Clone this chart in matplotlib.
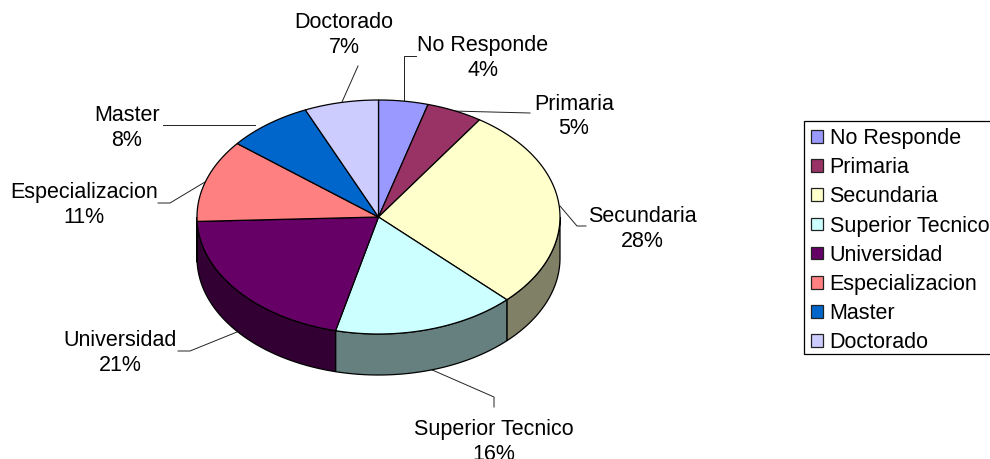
import numpy as np
import matplotlib
matplotlib.use('Agg')
import matplotlib.pyplot as plt
from matplotlib.patches import Polygon, Rectangle

categories = ['No Responde', 'Primaria', 'Secundaria', 'Superior Tecnico',
              'Universidad', 'Especializacion', 'Master', 'Doctorado']
values = [4.4, 5.0, 28.1, 16.3, 20.6, 11.4, 7.6, 6.6]
top_colors = ['#9999FF', '#993366', '#FFFFCC', '#CCFFFF', '#660066', '#FF8080', '#0066CC', '#CCCCFF']
side_colors = ['#4D4D80', '#4D1A33', '#808066', '#668080', '#330033', '#804040', '#003366', '#666680']
label_pos = [(483, 57.5), (574, 116.5), (642, 229.5), (494, 442), (120, 353), (84, 205), (127, 128), (344, 35)]
leaders = [[(404, 101), (404, 57), (416, 57)],
           [(452, 112), (530, 114)],
           [(560, 207), (577, 227), (586, 227)],
           [(430, 370), (494, 398), (494, 408)],
           [(237, 333), (190, 352), (178, 352)],
           [(205, 183), (170, 204), (158, 204)],
           [(255, 126), (163, 126)],
           [(342, 103), (358, 67)]]

plt.rcParams['font.family'] = ['Liberation Sans', 'DejaVu Sans']
fig = plt.figure(figsize=(9.9, 4.6), dpi=100)
ax = fig.add_axes([0, 0, 1, 1])
ax.set_xlim(0, 990)
ax.set_ylim(460, 0)
ax.axis('off')

cx, cy, rx, ry, depth = 378.5, 218, 181.5, 117, 41
fracs = np.cumsum([0] + values) / sum(values) * 2 * np.pi


def rim(a, b, n=80):
    t = np.linspace(a, b, n)
    return np.column_stack([cx + rx * np.sin(t), cy - ry * np.cos(t)])


# side walls (visible where the rim faces the viewer)
for i in range(len(values)):
    a, b = max(fracs[i], np.pi / 2), min(fracs[i + 1], 3 * np.pi / 2)
    if a < b:
        p = rim(a, b)
        wall = np.vstack([p, (p + [0, depth])[::-1]])
        ax.add_patch(Polygon(wall, closed=True, fc=side_colors[i], ec='black', lw=0.9, zorder=2))

# top faces
for i in range(len(values)):
    p = rim(fracs[i], fracs[i + 1])
    ax.add_patch(Polygon(np.vstack([[cx, cy], p]), closed=True, fc=top_colors[i], ec='black', lw=0.9, zorder=3))

# leaders and labels
for i, cat in enumerate(categories):
    xs, ys = zip(*leaders[i])
    ax.plot(xs, ys, color='#222222', lw=0.7, zorder=1)
    ax.text(label_pos[i][0], label_pos[i][1], f'{cat}\n{values[i]:.0f}%', ha='center', va='center',
            fontsize=15.5, linespacing=1.25, color='black', zorder=5, clip_on=False)

# legend
ax.add_patch(Rectangle((804, 122), 190, 233, fc='white', ec='black', lw=0.9, zorder=1))
for i, cat in enumerate(categories):
    y = 137 + i * 29.2
    ax.add_patch(Rectangle((810.5, y - 6), 12.5, 12.5, fc=top_colors[i], ec='#222222', lw=0.9, zorder=2))
    ax.text(829.5, y + 1.5, cat, ha='left', va='center', fontsize=15.5, color='black', zorder=3)

fig.savefig('out.png', dpi=100, facecolor='white')
